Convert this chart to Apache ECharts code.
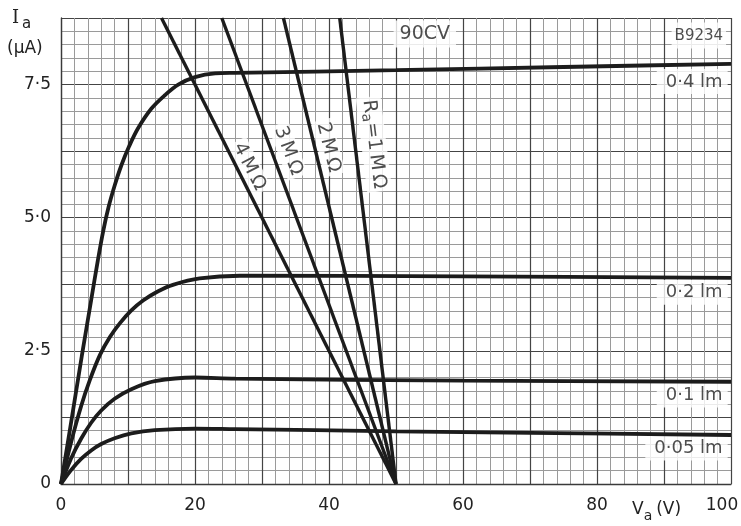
<!DOCTYPE html>
<html>
<head>
<meta charset="utf-8">
<title>90CV</title>
<script src="https://cdn.jsdelivr.net/npm/echarts@6/dist/echarts.min.js"></script>
<style>
html, body { margin: 0; padding: 0; background: #fff; }
#main { width: 741px; height: 526px; }
</style>
</head>
<body>
<div id="main"></div>
<script>
// anode current (uA) against anode voltage (V), one curve per light level
var lm040 = [[0, 0], [1.5, 1.15], [3.1, 2.4], [4.5, 3.45], [5.5, 4.2], [6.3, 4.75], [7.1, 5.2], [8.0, 5.6],
    [9.0, 5.98], [10.2, 6.35], [11.5, 6.68], [13.5, 7.05], [15.5, 7.3], [17.5, 7.5], [20, 7.64], [23, 7.71],
    [26, 7.72], [50, 7.77], [75, 7.83], [100, 7.89]];
var lm020 = [[0, 0], [1.5, 0.78], [3, 1.46], [4.3, 1.95], [5.8, 2.42], [7.3, 2.76], [8.8, 3.02], [10.5, 3.26],
    [12.3, 3.45], [14.5, 3.62], [16.7, 3.74], [20.7, 3.86], [26.7, 3.91], [60, 3.9], [100, 3.87]];
var lm010 = [[0, 0], [1.5, 0.48], [3, 0.85], [4.5, 1.15], [6, 1.38], [8, 1.6], [10.5, 1.78], [14, 1.93],
    [20, 2.0], [26, 1.98], [60, 1.94], [100, 1.92]];
var lm005 = [[0, 0], [1.5, 0.26], [3, 0.47], [4.5, 0.63], [6, 0.75], [8, 0.86], [10.5, 0.95], [14, 1.01],
    [20, 1.04], [26, 1.03], [50, 0.99], [70, 0.96], [100, 0.92]];

// load lines, all meeting at 50 V
var load1M = [[41.6, 8.75], [50, 0]];
var load2M = [[33.2, 8.75], [50, 0]];
var load3M = [[24.0, 8.75], [50, 0]];
var load4M = [[15.0, 8.75], [50, 0]];

var curveLabels = ['0·4 lm', '0·2 lm', '0·1 lm', '0·05 lm'];
var curveLabelAt = [[99.5, 7.56], [99.5, 3.6], [99.5, 1.67], [99.5, 0.675]];
var loadLabels = ['4\u2009M\u2009Ω', '3\u2009M\u2009Ω', '2\u2009M\u2009Ω', '{r|R}{s|a}{r|=1\u2009M\u2009Ω}'];
var loadLabelAt = [[28.1, 5.96], [33.9, 6.26], [39.9, 6.32], [46.7, 6.38]];
var loadAngles = [-63, -69.5, -76, -83];

var xTicks = [0, 20, 40, 60, 80, 100];
var yTicks = [0, 2.5, 5, 7.5];

var ink = '#1c1c1c';
var textInk = '#222';
var font = 'DejaVu Sans';

var mychart = echarts.init(document.getElementById('main'));

function curve(name, data) {
    return {
        name: name,
        type: 'line',
        data: data,
        smooth: 0.35,
        showSymbol: false,
        silent: true,
        z: 4,
        lineStyle: { color: ink, width: 3.8 }
    };
}

function loadLine(name, data) {
    return {
        name: name,
        type: 'line',
        data: data,
        showSymbol: false,
        silent: true,
        z: 4,
        lineStyle: { color: ink, width: 3.4 }
    };
}

var textItems = [];
curveLabels.forEach(function (t, i) {
    textItems.push({
        value: curveLabelAt[i],
        label: {
            formatter: t,
            align: 'right',
            fontSize: 18,
            padding: [4, 5, 3, 9]
        }
    });
});
loadLabels.forEach(function (t, i) {
    textItems.push({
        value: loadLabelAt[i],
        label: {
            formatter: t,
            rotate: loadAngles[i],
            fontSize: 19,
            padding: [1, 3, 1, 3]
        }
    });
});
textItems.push({ value: [54.3, 8.45], label: { formatter: '90CV', fontSize: 19, padding: [4, 6, 4, 6] } });
textItems.push({ value: [95.2, 8.42], label: { formatter: 'B9234', fontSize: 15, padding: [6, 3, 5, 3] } });

var option = {
    animation: false,
    backgroundColor: '#fff',
    grid: { left: 61, right: 10, top: 18, bottom: 42, outerBoundsMode: 'none' },
    xAxis: {
        type: 'value',
        min: 0,
        max: 100,
        interval: 10,
        axisLine: { show: true, lineStyle: { color: '#3a3a3a', width: 1.3 } },
        axisTick: { show: false },
        minorTick: { show: false, splitNumber: 5 },
        splitLine: { show: true, lineStyle: { color: '#444', width: 1.2 } },
        minorSplitLine: { show: true, lineStyle: { color: '#9a9a9a', width: 1 } },
        axisLabel: {
            margin: 13,
            color: textInk,
            fontFamily: font,
            fontSize: 17,
            formatter: function (v) {
                if (xTicks.indexOf(v) < 0) return '';
                if (v === 100) return '{e|100}';
                return String(v);
            },
            rich: { e: { fontSize: 17, fontFamily: font, color: textInk, padding: [0, 18, 0, 0] } }
        }
    },
    yAxis: {
        type: 'value',
        min: 0,
        max: 8.75,
        interval: 1.25,
        axisLine: { show: true, lineStyle: { color: '#3a3a3a', width: 1.3 } },
        axisTick: { show: false },
        minorTick: { show: false, splitNumber: 5 },
        splitLine: { show: true, lineStyle: { color: '#444', width: 1.2 } },
        minorSplitLine: { show: true, lineStyle: { color: '#9a9a9a', width: 1 } },
        axisLabel: {
            margin: 10,
            color: textInk,
            fontFamily: font,
            fontSize: 17,
            formatter: function (v) {
                if (yTicks.indexOf(v) < 0) return '';
                return v === 0 ? '0' : v.toFixed(1).replace('.', '·');
            }
        }
    },
    graphic: [
        {
            type: 'text', left: 12, top: 9,
            style: {
                text: '{i|I}{s|a}',
                fill: textInk,
                rich: {
                    i: { fontFamily: 'DejaVu Serif', fontSize: 18, fill: textInk },
                    s: { fontFamily: font, fontSize: 15, fill: textInk, padding: [12, 0, 0, 3] }
                }
            }
        },
        {
            type: 'text', left: 7, top: 40,
            style: { text: '(µA)', fill: textInk, fontFamily: font, fontSize: 17 }
        },
        {
            type: 'text', left: 632, top: 501,
            style: {
                text: '{v|V}{s|a}{v|(V)}',
                fill: textInk,
                rich: {
                    v: { fontFamily: font, fontSize: 17, fill: textInk },
                    s: { fontFamily: font, fontSize: 14, fill: textInk, padding: [14, 4, 0, 0] }
                }
            }
        }
    ],
    series: [
        curve('0.4 lm', lm040),
        curve('0.2 lm', lm020),
        curve('0.1 lm', lm010),
        curve('0.05 lm', lm005),
        loadLine('1M', load1M),
        loadLine('2M', load2M),
        loadLine('3M', load3M),
        loadLine('4M', load4M),
        {
            name: 'text',
            type: 'scatter',
            symbolSize: 0,
            silent: true,
            z: 3,
            data: textItems,
            label: {
                show: true,
                position: 'inside',
                color: textInk,
                fontFamily: font,
                backgroundColor: '#fff',
                rich: {
                    r: { fontFamily: font, fontSize: 19, color: textInk },
                    s: { fontFamily: font, fontSize: 14, color: textInk, padding: [9, 1, 0, 0] }
                }
            }
        }
    ]
};

mychart.setOption(option);
</script>
</body>
</html>
